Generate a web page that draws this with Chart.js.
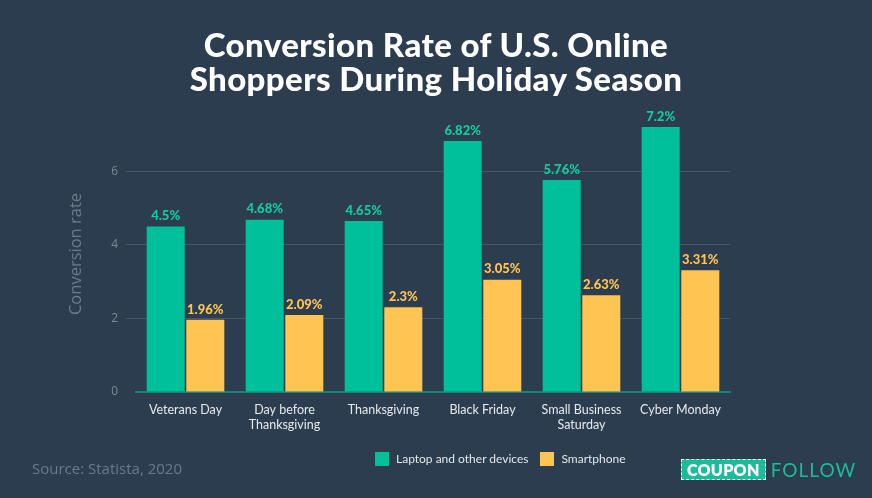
<!DOCTYPE html>
<html>
<head>
<meta charset="utf-8">
<script src="https://cdn.jsdelivr.net/npm/chart.js@4.4.1/dist/chart.umd.min.js"></script>
<style>
  html, body { margin: 0; padding: 0; background: #2c3d4f; }
  #wrap { position: relative; width: 872px; height: 498px; overflow: hidden; }
  #title {
    position: absolute; left: 0; top: 27px; width: 872px; text-align: center;
    color: #fff; font: 900 33px/34px Lato, sans-serif; letter-spacing: 0.4px;
  }
  #legend {
    position: absolute; left: 375px; top: 451px; display: flex; align-items: center;
    font: 12px Lato, sans-serif; color: #e3e7ea;
  }
  #legend .box { width: 14px; height: 14px; display: inline-block; margin-right: 7px; }
  #legend .item { display: flex; align-items: center; margin-right: 12px; }
  #source {
    position: absolute; left: 32px; top: 458px; font: 15px 'Open Sans', sans-serif; color: #687a8c;
  }
  #logo { position: absolute; left: 681px; top: 459px; display: flex; align-items: center; }
  #logo .cp {
    background: #1abc9c; border: 1px dashed #fff; color: #fff; font: 800 16px/19px Lato, sans-serif;
    padding: 0 5px; letter-spacing: 0.3px;
  }
  #logo .fl { color: #1abc9c; font: 400 19px/20px Lato, sans-serif; margin-left: 5px; letter-spacing: 1px; }
</style>
</head>
<body>
<div id="wrap">
  <canvas id="chart" width="872" height="498"></canvas>
  <div id="title">Conversion Rate of U.S. Online<br>Shoppers During Holiday Season</div>
  <div id="legend">
    <span class="item"><span class="box" style="background:#00bf9b"></span>Laptop and other devices</span>
    <span class="item"><span class="box" style="background:#ffc452"></span>Smartphone</span>
  </div>
  <div id="source">Source: Statista, 2020</div>
  <div id="logo"><span class="cp">COUPON</span><span class="fl">FOLLOW</span></div>
</div>
<script>
const categories = ['Veterans Day', ['Day before', 'Thanksgiving'], 'Thanksgiving', 'Black Friday', ['Small Business', 'Saturday'], 'Cyber Monday']
const laptopValues = [4.5, 4.68, 4.65, 6.82, 5.76, 7.2]
const phoneValues = [1.96, 2.09, 2.3, 3.05, 2.63, 3.31]
const yTicks = [0, 2, 4, 6]

const green = '#00bf9b'
const yellow = '#ffc452'
const gridColor = '#465769'

// draw value labels above each bar
const valueLabels = {
  id: 'valueLabels',
  afterDatasetsDraw(chart) {
    const ctx = chart.ctx
    ctx.save()
    ctx.font = '900 13px Lato, sans-serif'
    ctx.textAlign = 'center'
    ctx.textBaseline = 'bottom'
    chart.data.datasets.forEach((ds, i) => {
      ctx.fillStyle = i === 0 ? '#12cba2' : '#ffc452'
      chart.getDatasetMeta(i).data.forEach((bar, j) => {
        ctx.fillText(ds.data[j] + '%', bar.x, bar.y - 4)
      })
    })
    ctx.restore()
  }
}

new Chart(document.getElementById('chart').getContext('2d'), {
  type: 'bar',
  data: {
    labels: categories,
    datasets: [
      { label: 'Laptop and other devices', data: laptopValues, backgroundColor: green },
      { label: 'Smartphone', data: phoneValues, backgroundColor: yellow }
    ]
  },
  options: {
    responsive: false,
    animation: false,
    layout: { padding: { left: 66, right: 142, top: 116, bottom: 60 } },
    datasets: { bar: { categoryPercentage: 0.8, barPercentage: 0.96 } },
    scales: {
      x: {
        grid: { display: false, drawTicks: false },
        border: { color: 'rgba(0,191,155,0.55)', width: 2 },
        ticks: { color: '#e6e9ec', font: { family: 'Lato', size: 12.5 }, padding: 10, maxRotation: 0 },
        afterFit: (s) => { s.height = 46 }
      },
      y: {
        min: 0,
        max: 7.5,
        afterBuildTicks: (s) => { s.ticks = yTicks.map((v) => ({ value: v })) },
        grid: {
          color: (c) => (c.tick && c.tick.value === 0 ? 'transparent' : gridColor),
          tickLength: 10,
          drawTicks: true
        },
        border: { display: false },
        ticks: { color: '#7b8a99', font: { family: 'Open Sans', size: 12 }, padding: 8 },
        title: {
          display: true,
          text: 'Conversion rate',
          color: '#6b7c8d',
          font: { family: 'Open Sans', size: 16.5 },
          padding: { top: 0, bottom: 0 }
        },
        afterFit: (s) => { s.width = 70 }
      }
    },
    plugins: {
      legend: { display: false },
      tooltip: { enabled: false }
    }
  },
  plugins: [valueLabels]
})
</script>
</body>
</html>
